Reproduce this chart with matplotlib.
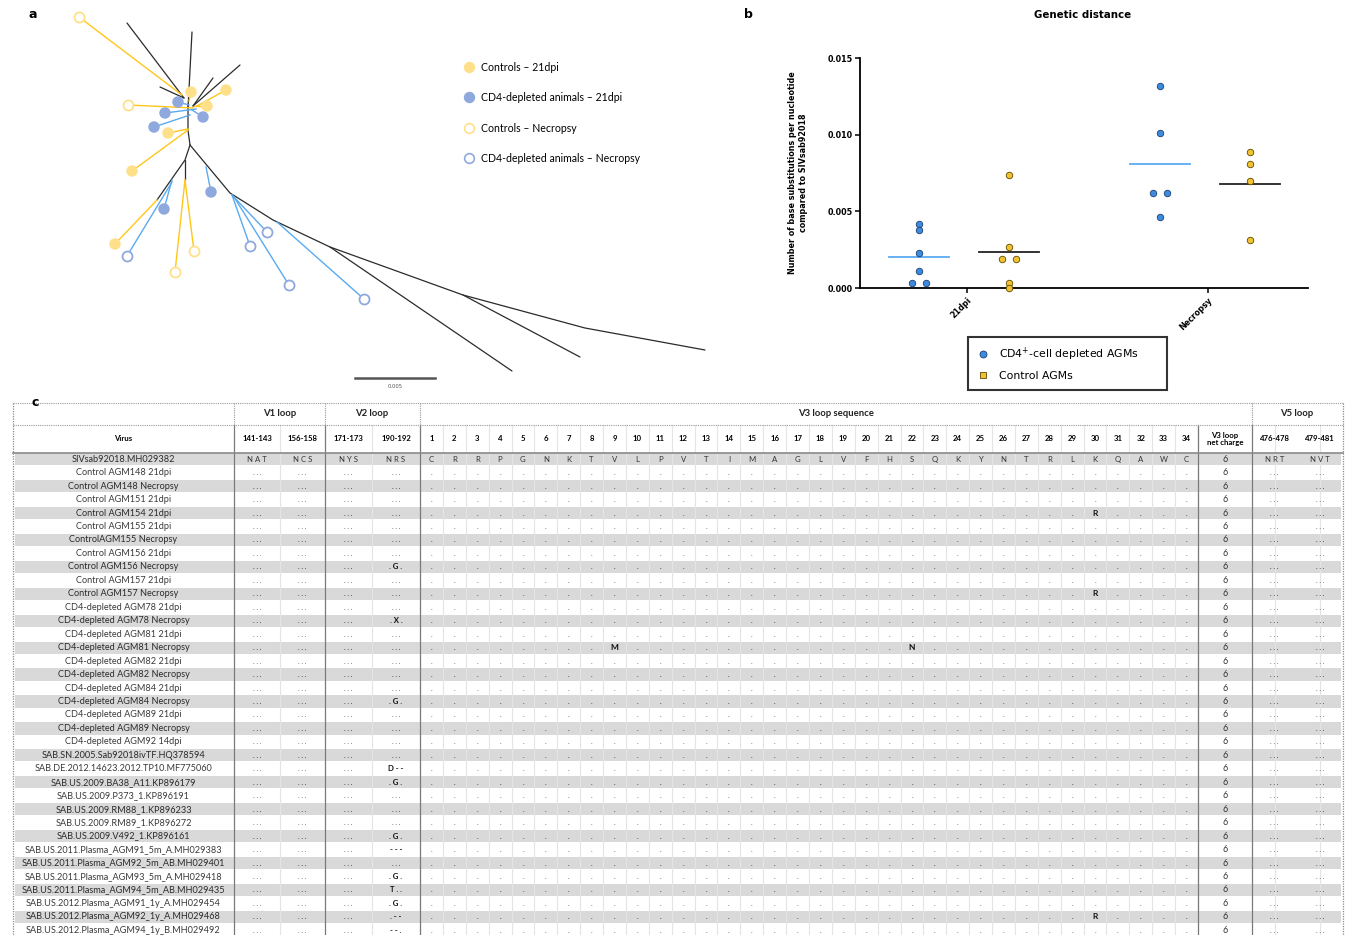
import numpy as np
import matplotlib.pyplot as plt
from matplotlib.lines import Line2D
from matplotlib.patches import Rectangle

W, H = 1351, 935

# ---------------- panel a : unrooted env tree (layout units, 80 = 0.005 subs/site)
backbone = [
    [(127, 23), (184, 98)],
    [(192, 32), (188, 108)],
    [(240, 65), (193, 106)],
    [(213, 78), (193, 106)],
    [(160, 87), (184, 98)],
    [(188, 104), (188, 130), (190, 145)],
    [(190, 145), (185, 160), (157, 200)],
    [(185, 160), (185, 180)],
    [(190, 145), (230, 193), (273, 220), (330, 247), (463, 295), (585, 328), (705, 350)],
    [(330, 247), (512, 371)],
    [(463, 295), (580, 357)],
]

ctrl_21dpi_tips = [(191, 92), (226, 90), (207, 106), (168, 133), (132, 171), (115, 244)]
ctrl_21dpi_parents = [(189, 101), (197, 106), (194, 106), (188, 129), (188, 130), (157, 200)]
cd4_21dpi_tips = [(178, 102), (165, 113), (203, 117), (154, 127), (211, 192), (164, 209)]
cd4_21dpi_parents = [(189, 105), (196, 109), (192, 110), (190, 115), (206, 167), (172, 180)]
ctrl_nec_tips = [(79, 17), (128, 105), (175, 272), (194, 251)]
ctrl_nec_parents = [(182, 95), (193, 108), (185, 180), (185, 180)]
cd4_nec_tips = [(127, 256), (250, 246), (267, 232), (289, 285), (364, 299)]
cd4_nec_parents = [(172, 182), (232, 195), (232, 195), (234, 197), (277, 222)]

# ---------------- panel b : genetic distance to SIVsab92018
timepoints = ['21dpi', 'Necropsy']
cd4_dist = [[0.0042, 0.0038, 0.0023, 0.0011, 0.0003, 0.0003],
            [0.0132, 0.0101, 0.0062, 0.0062, 0.0046]]
ctrl_dist = [[0.0074, 0.0027, 0.0019, 0.0019, 0.0003, 0.0000],
             [0.0089, 0.0081, 0.0070, 0.0031]]

# ---------------- panel c : env loop alignment
viruses = [
    'SIVsab92018.MH029382', 'Control AGM148 21dpi', 'Control AGM148 Necropsy',
    'Control AGM151 21dpi', 'Control AGM154 21dpi', 'Control AGM155 21dpi',
    'ControlAGM155 Necropsy', 'Control AGM156 21dpi', 'Control AGM156 Necropsy',
    'Control AGM157 21dpi', 'Control AGM157 Necropsy', 'CD4-depleted AGM78 21dpi',
    'CD4-depleted AGM78 Necropsy', 'CD4-depleted AGM81 21dpi', 'CD4-depleted AGM81 Necropsy',
    'CD4-depleted AGM82 21dpi', 'CD4-depleted AGM82 Necropsy', 'CD4-depleted AGM84 21dpi',
    'CD4-depleted AGM84 Necropsy', 'CD4-depleted AGM89 21dpi', 'CD4-depleted AGM89 Necropsy',
    'CD4-depleted AGM92 14dpi', 'SAB.SN.2005.Sab92018ivTF.HQ378594',
    'SAB.DE.2012.14623.2012.TP10.MF775060', 'SAB.US.2009.BA38_A11.KP896179',
    'SAB.US.2009.P373_1.KP896191', 'SAB.US.2009.RM88_1.KP896233',
    'SAB.US.2009.RM89_1.KP896272', 'SAB.US.2009.V492_1.KP896161',
    'SAB.US.2011.Plasma_AGM91_5m_A.MH029383', 'SAB.US.2011.Plasma_AGM92_5m_AB.MH029401',
    'SAB.US.2011.Plasma_AGM93_5m_A.MH029418', 'SAB.US.2011.Plasma_AGM94_5m_AB.MH029435',
    'SAB.US.2012.Plasma_AGM91_1y_A.MH029454', 'SAB.US.2012.Plasma_AGM92_1y_A.MH029468',
    'SAB.US.2012.Plasma_AGM94_1y_B.MH029492',
]
loop_cols = ['141-143', '156-158', '171-173', '190-192']
ref_loops = ['NAT', 'NCS', 'NYS', 'NRS']
v5_cols = ['476-478', '479-481']
ref_v5 = ['NRT', 'NVT']
ref_v3 = list('CRRPGNKTVLPVTIMAGLVFHSQKYNTRLKQAWC')
net_charge = [6] * len(viruses)
# residues 190-192 differing from the reference (row index -> motif)
v2_190_192 = {8: '.G.', 12: '.X.', 18: '.G.', 23: 'D--', 24: '.G.', 28: '.G.',
              29: '---', 31: '.G.', 32: 'T..', 33: '.G.', 34: '.--', 35: '--.'}
# V3 substitutions (row index, position) -> residue
v3_subs = {(4, 30): 'R', (10, 30): 'R', (34, 30): 'R', (14, 9): 'M', (14, 22): 'N'}

# colours
c_yel_tip, c_blu_tip = '#FFE08A', '#8FA9DE'
c_yel_br, c_blu_br = '#FFC61A', '#5AAAF0'
c_pt_blue, c_pt_yel = '#3D8BE0', '#F2C230'

fig = plt.figure(figsize=(W / 100, H / 100), dpi=100)
bg = fig.add_axes([0, 0, 1, 1])
bg.set_xlim(0, W)
bg.set_ylim(H, 0)
bg.axis('off')

# ----- tree
for path in backbone:
    xs, ys = zip(*path)
    bg.plot(xs, ys, color='#2b2b2b', lw=0.9, solid_capstyle='round')

tip_groups = [
    (ctrl_21dpi_tips, ctrl_21dpi_parents, c_yel_br, c_yel_tip, True, 'Controls \u2013 21dpi'),
    (cd4_21dpi_tips, cd4_21dpi_parents, c_blu_br, c_blu_tip, True, 'CD4-depleted animals \u2013 21dpi'),
    (ctrl_nec_tips, ctrl_nec_parents, c_yel_br, c_yel_tip, False, 'Controls \u2013 Necropsy'),
    (cd4_nec_tips, cd4_nec_parents, c_blu_br, c_blu_tip, False, 'CD4-depleted animals \u2013 Necropsy'),
]
legend_a = []
for tips, parents, lc, mc, filled, label in tip_groups:
    for (tx, ty), (px, py) in zip(tips, parents):
        bg.plot([px, tx], [py, ty], color=lc, lw=1.0, zorder=2)
    tx, ty = zip(*tips)
    if filled:
        bg.scatter(tx, ty, s=68, color=mc, edgecolors='none', zorder=3)
    else:
        bg.scatter(tx, ty, s=52, facecolors='white', edgecolors=mc, linewidths=1.3, zorder=3)
    legend_a.append(Line2D([], [], ls='none', marker='o', ms=7,
                           mfc=mc if filled else 'white', mec=mc, mew=1.2, label=label))

bg.plot([355, 435], [378, 378], color='#555555', lw=1.8)
bg.text(395, 387, '0.005', fontsize=3.8, ha='center', va='center', color='#555555')

leg_a = bg.legend(handles=legend_a, loc='upper left', bbox_to_anchor=(453 / W, 1 - 52 / H),
                  frameon=False, prop={'family': 'Lato', 'size': 7.6},
                  labelspacing=1.85, handletextpad=0.6, handlelength=1.2)

bg.text(33, 14, 'a', fontsize=9, fontweight='bold', ha='center', va='center')
bg.text(748, 14, 'b', fontsize=9, fontweight='bold', ha='center', va='center')
bg.text(35, 402, 'c', fontsize=9, fontweight='bold', ha='center', va='center')

# ----- panel b
axb = fig.add_axes([860 / W, 1 - 288 / H, (1308 - 860) / W, (288 - 58) / H])
axb.set_xlim(-0.444, 1.415)
axb.set_ylim(0, 0.015)
for s in ['top', 'right']:
    axb.spines[s].set_visible(False)
for s in ['left', 'bottom']:
    axb.spines[s].set_linewidth(1.3)


def dodge(vals, d=0.028):
    vals = np.asarray(vals)
    off = np.zeros(len(vals))
    for v in np.unique(vals):
        idx = np.where(vals == v)[0]
        if len(idx) > 1:
            off[idx] = np.linspace(-d, d, len(idx))
    return off


for i in range(len(timepoints)):
    for vals, dx, fc, ec, lc in [(cd4_dist[i], -0.2, c_pt_blue, '#1d3f6e', c_blu_br),
                                 (ctrl_dist[i], 0.175, c_pt_yel, '#5c4a00', '#222222')]:
        xs = i + dx + dodge(vals)
        axb.scatter(xs, vals, s=22, color=fc, edgecolors=ec, linewidths=0.6,
                    zorder=3, clip_on=False)
        m = np.mean(vals)
        axb.plot([i + dx - 0.125, i + dx + 0.125], [m, m], color=lc, lw=1.3, zorder=2)

axb.set_yticks([0, 0.005, 0.010, 0.015])
axb.set_yticklabels(['0.000', '0.005', '0.010', '0.015'])
axb.set_xticks(range(len(timepoints)))
axb.set_xticklabels(timepoints, rotation=45, ha='right', rotation_mode='anchor')
axb.tick_params(axis='both', labelsize=5.8, width=1.1, length=3.5, pad=2)
for t in axb.get_xticklabels() + axb.get_yticklabels():
    t.set_fontweight('bold')
axb.set_ylabel('Number of base substitutions per nucleotide\ncompared to SIVsab92018',
               fontsize=5.8, fontweight='bold', labelpad=14, linespacing=1.3)
axb.set_title('Genetic distance', fontsize=7.4, fontweight='bold', pad=29,
              x=(1083 - 860) / (1308 - 860))

handles_b = [
    Line2D([], [], ls='none', marker='o', ms=5, mfc=c_pt_blue, mec='#1d3f6e', mew=0.6,
           label='CD4$^{+}$-cell depleted AGMs'),
    Line2D([], [], ls='none', marker='s', ms=5, mfc=c_pt_yel, mec='#5c4a00', mew=0.6,
           label='Control AGMs'),
]
leg_b = fig.legend(handles=handles_b, loc='center',
                   bbox_to_anchor=(968 / W, 1 - 391 / H, 199 / W, 55 / H), mode='expand',
                   frameon=True, fancybox=False, edgecolor='black', fontsize=7.8,
                   handlelength=1.0, handletextpad=1.0, borderpad=0.85, labelspacing=0.75,
                   borderaxespad=0)
leg_b.get_frame().set_linewidth(1.5)

# ----- panel c table
x0, x1 = 13, 1343
loop_edges = [234, 280, 325, 372, 420]
v3_edges = np.linspace(420, 1198, len(ref_v3) + 1)
tail_edges = [1198, 1252, 1297, 1343]
y_top, y_mid, y_head = 403, 425, 452.5
row_h = 13.46
tfont = {'family': 'Lato'}

loop_cx = [(a + b) / 2 for a, b in zip(loop_edges[:-1], loop_edges[1:])]
v3_cx = (v3_edges[:-1] + v3_edges[1:]) / 2
charge_cx = (tail_edges[0] + tail_edges[1]) / 2
v5_cx = [(tail_edges[1] + tail_edges[2]) / 2, (tail_edges[2] + tail_edges[3]) / 2]

# shaded rows
for i in range(len(viruses)):
    yc = y_head + (i + 0.5) * row_h
    if i % 2 == 0:
        bg.add_patch(Rectangle((x0 + 2, yc - row_h / 2 + 0.6), x1 - x0 - 4, row_h - 1.2,
                               facecolor='#D9D9D9', edgecolor='none', zorder=0))

y_bot = H + 5
# fine cell separators
for x in list(v3_edges) + [280, 372, 1275, 1320]:
    bg.plot([x, x], [y_mid, y_bot], color='#E4E4E4', lw=0.8, zorder=0.5)
# group separators
for x in [234, 325, 420, 1198, 1252]:
    bg.plot([x, x], [y_mid, y_bot], color='#7a7a7a', lw=0.9, zorder=1)
for x in [234, 325, 420, 1252]:
    bg.plot([x, x], [y_top, y_mid], color='#9a9a9a', lw=0.8, ls=(0, (1, 1)), zorder=1)
for x in [x0, x1]:
    bg.plot([x, x], [y_top, y_bot], color='#8a8a8a', lw=0.9, ls=(0, (1, 1)), zorder=1)
bg.plot([x0, x1], [y_top, y_top], color='#9a9a9a', lw=0.8, ls=(0, (1, 1)))
bg.plot([x0, x1], [y_mid, y_mid], color='#9a9a9a', lw=0.8, ls=(0, (1, 1)))
bg.plot([x0, x1], [y_head, y_head], color='#8a8a8a', lw=1.2)

# header rows
hy1, hy2 = (y_top + y_mid) / 2, (y_mid + y_head) / 2
for txt, cx in [('V1 loop', 280), ('V2 loop', 372), ('V3 loop sequence', 836), ('V5 loop', 1297)]:
    bg.text(cx, hy1, txt, fontsize=6.8, fontweight='bold', ha='center', va='center',
            color='#222222', **tfont)
bg.text((x0 + 234) / 2, hy2, 'Virus', fontsize=5.6, fontweight='bold', ha='center',
        va='center', **tfont)
for txt, cx in zip(loop_cols, loop_cx):
    bg.text(cx, hy2, txt, fontsize=5.6, fontweight='bold', ha='center', va='center', **tfont)
for k, cx in enumerate(v3_cx):
    bg.text(cx, hy2, str(k + 1), fontsize=5.6, fontweight='bold', ha='center', va='center', **tfont)
bg.text(charge_cx, hy2, 'V3 loop\nnet charge', fontsize=5.6, fontweight='bold', ha='center',
        va='center', linespacing=0.95, **tfont)
for txt, cx in zip(v5_cols, v5_cx):
    bg.text(cx, hy2, txt, fontsize=5.6, fontweight='bold', ha='center', va='center', **tfont)

# body
for i, name in enumerate(viruses):
    yc = y_head + (i + 0.5) * row_h
    shaded = i % 2 == 0
    col = '#333333' if shaded else '#666666'
    bg.text((x0 + 234) / 2, yc, name, fontsize=6.6, ha='center', va='center',
            color='#2a2a2a' if shaded else '#3a3a3a', **tfont)
    if i == 0:
        loops, v3, v5 = ref_loops, ref_v3, ref_v5
    else:
        loops = ['...', '...', '...', v2_190_192.get(i, '...')]
        v3 = [v3_subs.get((i, k + 1), '.') for k in range(len(ref_v3))]
        v5 = ['...', '...']
    for s, cx in zip(loops, loop_cx):
        mut = i > 0 and s != '...'
        bg.text(cx, yc, ' '.join(s),
                fontsize=5.6 if (i == 0 or mut) else 5.0,
                fontweight='bold' if mut else 'normal', ha='center', va='center',
                color='#111111' if mut else col, **tfont)
    for aa, cx in zip(v3, v3_cx):
        mut = i > 0 and aa != '.'
        bg.text(cx, yc, aa, fontsize=6 if mut else (5.6 if i == 0 else 5.0),
                fontweight='bold' if mut else 'normal', ha='center', va='center',
                color='#111111' if mut else col, **tfont)
    bg.text(charge_cx, yc, str(net_charge[i]), fontsize=6.4, ha='center', va='center',
            color='#333333', **tfont)
    for s, cx in zip(v5, v5_cx):
        bg.text(cx, yc, ' '.join(s), fontsize=5.6 if i == 0 else 5.0,
                ha='center', va='center', color=col, **tfont)

fig.savefig('out.png', dpi=100)
